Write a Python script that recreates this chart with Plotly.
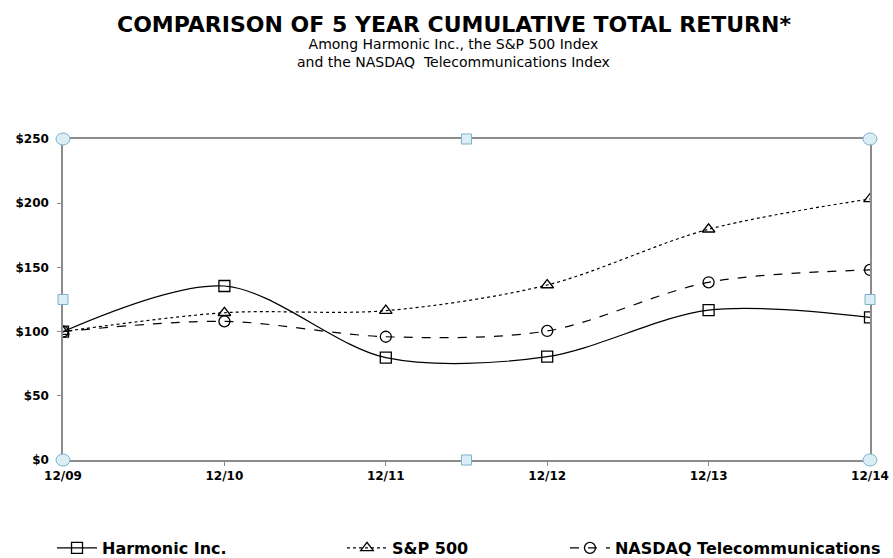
import plotly.graph_objects as go

periods = ["12/09", "12/10", "12/11", "12/12", "12/13", "12/14"]
harmonic = [100, 135.5, 79.7, 80.5, 116.8, 111.1]
sp500 = [100, 114.7, 116.3, 136.3, 179.7, 203.3]
nasdaq_tel = [100, 108.0, 96.0, 100.5, 138.4, 148.0]
y_ticks = [0, 50, 100, 150, 200, 250]
y_tick_labels = ["$0", "$50", "$100", "$150", "$200", "$250"]

series = [
    ("Harmonic Inc.", harmonic, "solid", "square-open", "legend"),
    ("S&P 500", sp500, "dot", "triangle-up-open", "legend2"),
    ("NASDAQ Telecommunications", nasdaq_tel, "dash", "circle-open", "legend3"),
]

fig = go.Figure()
for name, vals, dash, sym, lg in series:
    fig.add_trace(go.Scatter(
        x=list(range(len(periods))), y=vals, name=name, mode="lines+markers",
        line=dict(color="black", width=1.2, dash=dash, shape="spline", smoothing=0.9),
        marker=dict(symbol=sym, size=11, color="black", line=dict(width=1.3, color="black")),
        legend=lg,
    ))

# selection handle decorations
handle_fill = "#dceef5"
handle_line = "#7fb3c9"
for px_ in [0, 1]:
    for py_ in [0, 1]:
        fig.add_shape(type="circle", xref="paper", yref="paper", xsizemode="pixel", ysizemode="pixel",
                      xanchor=px_, yanchor=py_, x0=-7, x1=7, y0=-6, y1=6,
                      fillcolor=handle_fill, line=dict(color=handle_line, width=1))
for (px_, py_) in [(0.5, 0), (0.5, 1), (0, 0.5), (1, 0.5)]:
    fig.add_shape(type="rect", xref="paper", yref="paper", xsizemode="pixel", ysizemode="pixel",
                  xanchor=px_, yanchor=py_, x0=-5, x1=5, y0=-5, y1=5,
                  fillcolor=handle_fill, line=dict(color=handle_line, width=1))

legend_common = dict(orientation="h", yanchor="middle", y=-0.274, xanchor="left",
                     bgcolor="rgba(0,0,0,0)",
                     font=dict(family="DejaVu Sans", size=16, color="black", weight="bold"),
                     itemwidth=40)

fig.update_layout(
    width=893, height=558,
    margin=dict(l=63, r=23, t=139, b=98, autoexpand=False),
    paper_bgcolor="white", plot_bgcolor="white",
    showlegend=True,
    legend=dict(**legend_common, x=-0.0136),
    legend2=dict(**legend_common, x=0.3457),
    legend3=dict(**legend_common, x=0.622),
    annotations=[
        dict(text="<b>COMPARISON OF 5 YEAR CUMULATIVE TOTAL RETURN*</b>", xref="paper", yref="paper",
             x=(453.5 - 63) / 807, xanchor="center", y=(460 - 24.5) / 321, yanchor="middle",
             showarrow=False, font=dict(family="DejaVu Sans", size=22, color="black")),
        dict(text="Among Harmonic Inc., the S&P 500 Index<br>and the NASDAQ  Telecommunications Index",
             xref="paper", yref="paper", x=(453.5 - 63) / 807, xanchor="center",
             y=(460 - 53.5) / 321, yanchor="middle", showarrow=False, align="center",
             font=dict(family="DejaVu Sans", size=14, color="black")),
    ],
    xaxis=dict(tickmode="array", tickvals=list(range(len(periods))), ticktext=periods,
               range=[0, len(periods) - 1], showgrid=False, zeroline=False, automargin=False,
               showline=True, linecolor="#8c8c8c", linewidth=1.5, mirror=True,
               ticks="outside", ticklen=4, tickcolor="#8c8c8c",
               tickfont=dict(family="DejaVu Sans", size=12, color="black", weight="bold")),
    yaxis=dict(tickmode="array", tickvals=y_ticks, ticktext=y_tick_labels, range=[0, 250],
               showgrid=False, zeroline=False, automargin=False,
               showline=True, linecolor="#8c8c8c", linewidth=1.5,
               mirror=True, ticks="outside", ticklen=4, tickcolor="#8c8c8c", ticklabelstandoff=6,
               tickfont=dict(family="DejaVu Sans", size=12, color="black", weight="bold")),
)

fig.write_html("out.html", config={"displayModeBar": False},
               post_script="document.body.style.margin='0px';document.body.style.overflow='hidden';")
